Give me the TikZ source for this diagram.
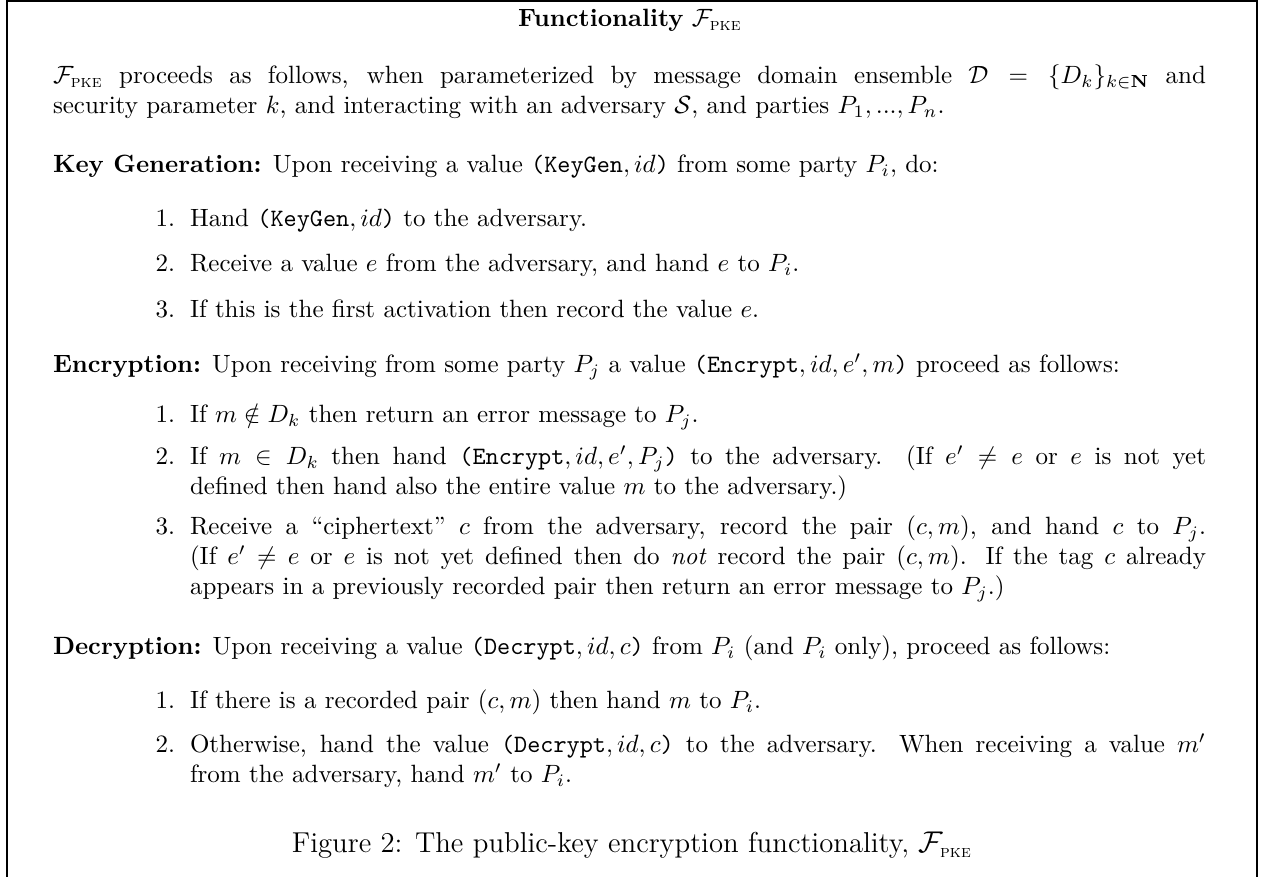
\documentclass[tikz,border=0pt]{standalone}
\setlength{\parindent}{0pt}
\newcommand{\Fpke}{\mathcal{F}_{\mbox{\scriptsize\textsc{pke}}}}
\newcommand{\req}[2]{\texttt{(#1}$,#2$\texttt{)}}
\begin{document}
\begin{tikzpicture}
	[
		x=0.4pt, y=-0.4pt,
		every node/.style = {inner sep=0pt, outer sep=0pt},
		para/.style = {anchor=base west, text width=461.2pt, align=justify},
		entry/.style = {anchor=base west, text width=406.4pt, align=justify},
		num/.style = {anchor=base east},
		frame/.style = {line width=0.7pt}
	]
	\useasboundingbox (0,0) rectangle (1268,877);
	\draw[frame] (7,877) -- (7,1) -- (1257,1) -- (1257,877);

	\node[anchor=base] (title) at (630,27) {\textbf{Functionality} $\Fpke$};
	\node[para] (intro) at (53,84) {$\Fpke$ proceeds as follows, when parameterized by message domain ensemble $\mathcal{D}=\{D_k\}_{k\in\mathbf{N}}$ and\linebreak security parameter $k$, and interacting with an adversary $\mathcal{S}$, and parties $P_1,...,P_n$.};

	% key generation
	\node[para] (keygen) at (53,173) {\textbf{Key Generation:} Upon receiving a value \req{KeyGen}{id} from some party $P_i$, do:};
	\node[num] (k1) at (175,227) {1.};
	\node[entry] (kt1) at (190,227) {Hand \req{KeyGen}{id} to the adversary.};
	\node[num] (k2) at (175,272) {2.};
	\node[entry] (kt2) at (190,272) {Receive a value $e$ from the adversary, and hand $e$ to $P_i$.};
	\node[num] (k3) at (175,318) {3.};
	\node[entry] (kt3) at (190,318) {If this is the first activation then record the value $e$.};

	% encryption
	\node[para] (enc) at (53,373) {\textbf{Encryption:} Upon receiving from some party $P_j$ a value \req{Encrypt}{id,e',m} proceed as follows:};
	\node[num] (e1) at (175,423) {1.};
	\node[entry] (et1) at (190,423) {If $m\notin D_k$ then return an error message to $P_j$.};
	\node[num] (e2) at (175,465) {2.};
	\node[entry] (et2) at (190,465) {If $m\in D_k$ then hand \req{Encrypt}{id,e',P_j} to the adversary. (If $e'\neq e$ or $e$ is not yet\linebreak defined then hand also the entire value $m$ to the adversary.)};
	\node[num] (e3) at (175,535) {3.};
	\node[entry] (et3) at (190,535) {Receive a ``ciphertext'' $c$ from the adversary, record the pair $(c,m)$, and hand $c$ to $P_j$.\linebreak (If $e'\neq e$ or $e$ is not yet defined then do \emph{not} record the pair $(c,m)$. If the tag $c$ already\linebreak appears in a previously recorded pair then return an error message to $P_j$.)};

	% decryption
	\node[para] (dec) at (53,655) {\textbf{Decryption:} Upon receiving a value \req{Decrypt}{id,c} from $P_i$ (and $P_i$ only), proceed as follows:};
	\node[num] (d1) at (175,709) {1.};
	\node[entry] (dt1) at (190,709) {If there is a recorded pair $(c,m)$ then hand $m$ to $P_i$.};
	\node[num] (d2) at (175,753) {2.};
	\node[entry] (dt2) at (190,753) {Otherwise, hand the value \req{Decrypt}{id,c} to the adversary. When receiving a value $m'$\linebreak from the adversary, hand $m'$ to $P_i$.};

	\node[anchor=base] (caption) at (632,853) {\fontsize{11.5}{14}\selectfont Figure 2: The public-key encryption functionality, $\Fpke$};
\end{tikzpicture}
\end{document}
